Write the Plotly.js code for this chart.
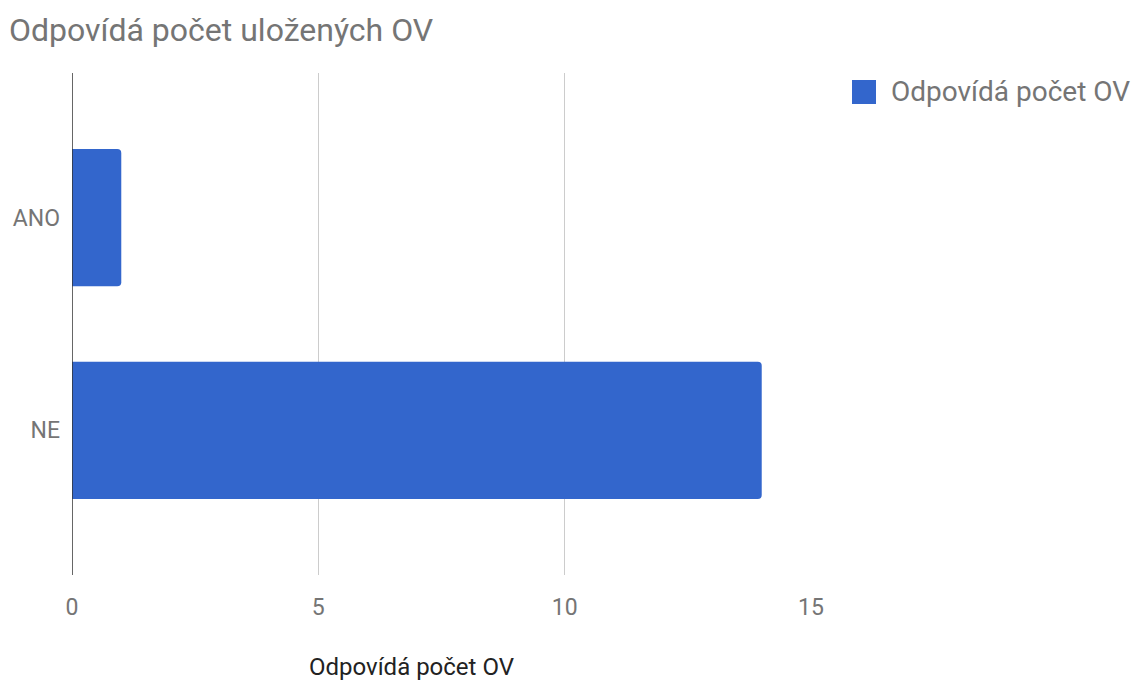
<!DOCTYPE html>
<html>
<head>
<meta charset="utf-8">
<script src="https://cdn.plot.ly/plotly-3.0.1.min.js"></script>
<style>html,body{margin:0;padding:0;background:#fff;}#chart{width:1137px;height:680px;}</style>
</head>
<body>
<div id="chart"></div>
<script>
const categories = ['ANO', 'NE'];
const values = [1, 14];
const seriesName = 'Odpovídá počet OV';
const chartTitle = 'Odpovídá počet uložených OV';
const xTickValues = [0, 5, 10, 15];
const barColor = '#3366CC';

const trace = {
  type: 'bar',
  orientation: 'h',
  y: categories,
  x: values,
  name: seriesName,
  marker: { color: barColor, cornerradius: 4 },
  showlegend: false,
  hoverinfo: 'x+y'
};

const plotL = 72, plotR = 811, plotT = 73, plotB = 575;
const pw = plotR - plotL, ph = plotB - plotT;
const px = v => (v - plotL) / pw;
const py = v => (plotB - v) / ph;

const layout = {
  width: 1137,
  height: 680,
  margin: { l: plotL, r: 1137 - plotR, t: plotT, b: 680 - plotB },
  paper_bgcolor: '#ffffff',
  plot_bgcolor: '#ffffff',
  font: { family: 'Roboto, sans-serif', color: '#757575', size: 24 },
  title: {
    text: chartTitle,
    font: { family: 'Roboto, sans-serif', size: 32, color: '#757575' },
    xref: 'container', yref: 'container',
    x: 9 / 1137, xanchor: 'left',
    y: 1 - 30 / 680, yanchor: 'middle'
  },
  bargap: 0.355,
  showlegend: false,
  xaxis: {
    range: [0, 15],
    tickvals: xTickValues,
    ticktext: xTickValues.map(String),
    showgrid: true,
    gridcolor: '#cccccc',
    gridwidth: 1.2,
    zeroline: false,
    showline: false,
    ticks: '',
    ticklabelstandoff: 16,
    tickfont: { size: 23, color: '#757575' },
    fixedrange: true
  },
  yaxis: {
    type: 'category',
    categoryorder: 'array',
    categoryarray: ['NE', 'ANO'],
    range: [-0.68, 1.68],
    showgrid: false,
    zeroline: false,
    showline: false,
    ticks: '',
    ticklabelstandoff: 11,
    tickfont: { size: 23, color: '#757575' },
    fixedrange: true
  },
  shapes: [
    {
      type: 'line', xref: 'x', yref: 'paper',
      x0: 0, x1: 0, y0: 0, y1: 1,
      line: { color: '#333333', width: 1.5 }
    },
    {
      type: 'rect', xref: 'paper', yref: 'paper',
      x0: px(852), x1: px(876), y0: py(104), y1: py(80),
      fillcolor: barColor, line: { width: 0 }
    }
  ],
  annotations: [
    {
      text: seriesName,
      xref: 'paper', yref: 'paper',
      x: px(411), y: py(667),
      xanchor: 'center', yanchor: 'middle',
      showarrow: false,
      font: { family: 'Roboto, sans-serif', size: 24, color: '#222222' }
    },
    {
      text: seriesName,
      xref: 'paper', yref: 'paper',
      x: px(889), y: py(92),
      xanchor: 'left', yanchor: 'middle',
      showarrow: false,
      font: { family: 'Roboto, sans-serif', size: 28, color: '#757575' }
    }
  ]
};

Plotly.newPlot('chart', [trace], layout, { displayModeBar: false, staticPlot: true });
</script>
</body>
</html>
